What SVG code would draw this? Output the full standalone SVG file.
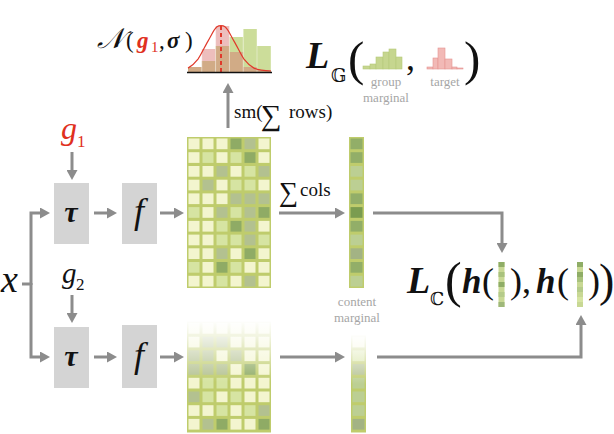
<svg xmlns="http://www.w3.org/2000/svg" width="614" height="434" viewBox="0 0 614 434">
<style>
.L{fill:#f3f5cf}.G{fill:#d6e4a2}.M{fill:#b3c190}.D{fill:#8fab65}
.V1{fill:#92ae68}.V2{fill:#bccf93}.V3{fill:#7a9c50}.V4{fill:#a3b384}
.c{width:11px;height:10.7px}
.v{width:12px;height:10.7px}
.grid{fill:#bfcc6c}
.box{fill:#d4d4d4}
.conn{fill:none;stroke:#8c8c8c;stroke-width:3}
.serif{font-family:"Liberation Serif","Times New Roman","DejaVu Serif",serif;fill:#111}
.ann{font-family:"Liberation Serif","DejaVu Serif",serif;fill:#a6a6a6;font-size:13px;text-anchor:middle}
.bb{fill:#c6d68f}
</style>
<defs>
<marker id="ah" markerUnits="userSpaceOnUse" markerWidth="10" markerHeight="11" viewBox="0 0 10 11" refX="4" refY="5.5" orient="auto">
<path d="M0,0 L10,5.5 L0,11 z" fill="#8c8c8c"/>
</marker>
<linearGradient id="fade" x1="0" y1="0" x2="0" y2="1">
<stop offset="0" stop-color="#fff" stop-opacity="1"/>
<stop offset="0.25" stop-color="#fff" stop-opacity="0.8"/>
<stop offset="1" stop-color="#fff" stop-opacity="0"/>
</linearGradient>
</defs>

<!-- histogram with gaussian -->
<g id="node-hist">
<g fill="#cadc95" opacity="0.95">
<rect x="188" y="67" width="13.8" height="5"/>
<rect x="201.8" y="61" width="13.8" height="11"/>
<rect x="215.6" y="46" width="13.8" height="26"/>
<rect x="229.4" y="37" width="13.8" height="35"/>
<rect x="243.2" y="29" width="13.8" height="43"/>
<rect x="257" y="46" width="13.8" height="26"/>
</g>
<g fill="#d9706e" opacity="0.45">
<rect x="188" y="67" width="13.8" height="5"/>
<rect x="201.8" y="49" width="13.8" height="23"/>
<rect x="215.6" y="26" width="13.8" height="46"/>
<rect x="229.4" y="52" width="13.8" height="20"/>
<rect x="243.2" y="67" width="13.8" height="5"/>
<rect x="257" y="70" width="13.8" height="2"/>
</g>
<g fill="none" stroke="#ffffff" stroke-opacity="0.5" stroke-width="0.8">
<line x1="201.8" y1="49" x2="201.8" y2="72"/><line x1="215.6" y1="26" x2="215.6" y2="72"/><line x1="229.4" y1="26" x2="229.4" y2="72"/><line x1="243.2" y1="29" x2="243.2" y2="72"/><line x1="257" y1="29" x2="257" y2="72"/>
</g>
<path d="M188,68.1 C191,66.5 195,63 198,59.1 C201,55 205,46 208,41.1 C211,36 214,29 217,26.8 C219,25.2 223,25.2 225,26.8 C228,29 231,36 234,41.1 C237,46 241,55 244,59.1 C247,63 251,66.5 254,68.1 C258,69.8 264,70.8 271,71" fill="none" stroke="#e0392b" stroke-width="1.2"/>
<line x1="221" y1="26" x2="221" y2="72" stroke="#e0392b" stroke-width="2" stroke-dasharray="4 3"/>
<line x1="187" y1="72.5" x2="272" y2="72.5" stroke="#111" stroke-width="1.6"/>
<text class="serif" x="97" y="48" font-size="23"><tspan font-style="italic" font-size="28">𝒩</tspan><tspan x="126">(</tspan><tspan x="137" fill="#e0301e" font-style="italic" font-weight="bold">g</tspan><tspan x="151" dy="4" font-size="15" fill="#e0301e">1</tspan><tspan x="159" dy="-4">,</tspan><tspan x="167" font-style="italic" font-weight="bold">σ</tspan><tspan x="185">)</tspan></text>
</g>

<!-- L_G -->
<g id="node-LG">
<text class="serif" x="306" y="68" font-size="38" font-style="italic" font-weight="bold">L</text>
<text class="serif" x="331" y="82" font-size="18" style="font-family:'DejaVu Serif','DejaVu Sans',serif">𝔾</text>
<text class="serif" x="348" y="75" font-size="49">(</text>
<g class="bb" stroke="#b5c97a" stroke-width="0.6">
<rect x="363" y="66" width="7" height="3"/>
<rect x="370" y="64" width="6" height="5"/>
<rect x="376" y="57" width="7" height="12"/>
<rect x="383" y="52" width="6" height="17"/>
<rect x="389" y="49" width="7" height="20"/>
<rect x="396" y="57" width="6" height="12"/>
</g>
<text class="serif" x="406" y="70" font-size="36">,</text>
<g fill="#f2b9b6" stroke="#e59391" stroke-width="0.6">
<rect x="427" y="67" width="6" height="2"/>
<rect x="433" y="58" width="5" height="11"/>
<rect x="438" y="48" width="7" height="21"/>
<rect x="445" y="59" width="7" height="10"/>
<rect x="452" y="67" width="5" height="2"/>
<rect x="457" y="68" width="6" height="1"/>
</g>
<text class="serif" x="464" y="75" font-size="49">)</text>
<text class="ann" x="386" y="86">group</text>
<text class="ann" x="386" y="102">marginal</text>
<text class="ann" x="445" y="86">target</text>
</g>

<!-- inputs -->
<g id="node-g1"><text class="serif" x="61" y="139" font-size="32" font-style="italic" style="fill:#e0301e">g</text><text class="serif" x="77" y="147" font-size="17" style="fill:#e0301e">1</text></g>
<g id="node-g2"><text class="serif" x="62" y="283" font-size="29" font-style="italic">g</text><text class="serif" x="76" y="290" font-size="17">2</text></g>
<g id="node-x"><text class="serif" x="1" y="292" font-size="38" font-style="italic">x</text></g>

<g id="node-tau1"><rect class="box" x="54" y="183" width="35" height="61"/><text class="serif" x="71" y="222" font-size="30" font-style="italic" font-weight="bold" text-anchor="middle">τ</text></g>
<g id="node-f1"><rect class="box" x="122" y="183" width="35" height="61"/><text class="serif" x="139" y="223" font-size="36" font-style="italic" text-anchor="middle">f</text></g>
<g id="node-tau2"><rect class="box" x="54" y="327" width="35" height="61"/><text class="serif" x="71" y="366" font-size="30" font-style="italic" font-weight="bold" text-anchor="middle">τ</text></g>
<g id="node-f2"><rect class="box" x="122" y="325" width="35" height="63"/><text class="serif" x="139" y="367" font-size="36" font-style="italic" text-anchor="middle">f</text></g>

<!-- top matrix -->
<g id="node-matrix1">
<rect class="grid" x="187" y="137" width="84" height="151"/>
<rect class="c L" x="188.5" y="138.5"/><rect class="c L" x="202.5" y="138.5"/><rect class="c L" x="216.5" y="138.5"/><rect class="c D" x="230.5" y="138.5"/><rect class="c M" x="244.5" y="138.5"/><rect class="c L" x="258.5" y="138.5"/>
<rect class="c L" x="188.5" y="152.2"/><rect class="c G" x="202.5" y="152.2"/><rect class="c L" x="216.5" y="152.2"/><rect class="c G" x="230.5" y="152.2"/><rect class="c D" x="244.5" y="152.2"/><rect class="c L" x="258.5" y="152.2"/>
<rect class="c L" x="188.5" y="166"/><rect class="c L" x="202.5" y="166"/><rect class="c M" x="216.5" y="166"/><rect class="c L" x="230.5" y="166"/><rect class="c G" x="244.5" y="166"/><rect class="c M" x="258.5" y="166"/>
<rect class="c L" x="188.5" y="179.7"/><rect class="c M" x="202.5" y="179.7"/><rect class="c L" x="216.5" y="179.7"/><rect class="c G" x="230.5" y="179.7"/><rect class="c G" x="244.5" y="179.7"/><rect class="c L" x="258.5" y="179.7"/>
<rect class="c L" x="188.5" y="193.4"/><rect class="c L" x="202.5" y="193.4"/><rect class="c L" x="216.5" y="193.4"/><rect class="c M" x="230.5" y="193.4"/><rect class="c M" x="244.5" y="193.4"/><rect class="c M" x="258.5" y="193.4"/>
<rect class="c G" x="188.5" y="207.1"/><rect class="c L" x="202.5" y="207.1"/><rect class="c M" x="216.5" y="207.1"/><rect class="c G" x="230.5" y="207.1"/><rect class="c M" x="244.5" y="207.1"/><rect class="c D" x="258.5" y="207.1"/>
<rect class="c L" x="188.5" y="220.9"/><rect class="c L" x="202.5" y="220.9"/><rect class="c G" x="216.5" y="220.9"/><rect class="c D" x="230.5" y="220.9"/><rect class="c M" x="244.5" y="220.9"/><rect class="c L" x="258.5" y="220.9"/>
<rect class="c L" x="188.5" y="234.6"/><rect class="c L" x="202.5" y="234.6"/><rect class="c G" x="216.5" y="234.6"/><rect class="c G" x="230.5" y="234.6"/><rect class="c M" x="244.5" y="234.6"/><rect class="c G" x="258.5" y="234.6"/>
<rect class="c L" x="188.5" y="248.3"/><rect class="c L" x="202.5" y="248.3"/><rect class="c M" x="216.5" y="248.3"/><rect class="c L" x="230.5" y="248.3"/><rect class="c D" x="244.5" y="248.3"/><rect class="c L" x="258.5" y="248.3"/>
<rect class="c G" x="188.5" y="262"/><rect class="c L" x="202.5" y="262"/><rect class="c D" x="216.5" y="262"/><rect class="c G" x="230.5" y="262"/><rect class="c L" x="244.5" y="262"/><rect class="c L" x="258.5" y="262"/>
<rect class="c L" x="188.5" y="275.8"/><rect class="c L" x="202.5" y="275.8"/><rect class="c G" x="216.5" y="275.8"/><rect class="c L" x="230.5" y="275.8"/><rect class="c M" x="244.5" y="275.8"/><rect class="c L" x="258.5" y="275.8"/>
</g>

<!-- top vector -->
<g id="node-vector1">
<rect class="grid" x="349" y="137" width="15" height="151"/>
<rect class="v V1" x="350.5" y="138.5"/><rect class="v V1" x="350.5" y="152.2"/><rect class="v V2" x="350.5" y="166"/><rect class="v V2" x="350.5" y="179.7"/><rect class="v V1" x="350.5" y="193.4"/><rect class="v V3" x="350.5" y="207.1"/><rect class="v V1" x="350.5" y="220.9"/><rect class="v V2" x="350.5" y="234.6"/><rect class="v V4" x="350.5" y="248.3"/><rect class="v V1" x="350.5" y="262"/><rect class="v V2" x="350.5" y="275.8"/>
</g>

<!-- bottom matrix -->
<g id="node-matrix2">
<rect class="grid" x="187" y="321.5" width="84" height="111"/>
<rect class="c L" x="188.5" y="323"/><rect class="c L" x="202.5" y="323"/><rect class="c L" x="216.5" y="323"/><rect class="c L" x="230.5" y="323"/><rect class="c L" x="244.5" y="323"/><rect class="c L" x="258.5" y="323"/>
<rect class="c L" x="188.5" y="336.7"/><rect class="c M" x="202.5" y="336.7"/><rect class="c M" x="216.5" y="336.7"/><rect class="c L" x="230.5" y="336.7"/><rect class="c L" x="244.5" y="336.7"/><rect class="c L" x="258.5" y="336.7"/>
<rect class="c M" x="188.5" y="350.4"/><rect class="c M" x="202.5" y="350.4"/><rect class="c L" x="216.5" y="350.4"/><rect class="c M" x="230.5" y="350.4"/><rect class="c L" x="244.5" y="350.4"/><rect class="c L" x="258.5" y="350.4"/>
<rect class="c M" x="188.5" y="364.1"/><rect class="c M" x="202.5" y="364.1"/><rect class="c M" x="216.5" y="364.1"/><rect class="c L" x="230.5" y="364.1"/><rect class="c D" x="244.5" y="364.1"/><rect class="c L" x="258.5" y="364.1"/>
<rect class="c L" x="188.5" y="377.8"/><rect class="c G" x="202.5" y="377.8"/><rect class="c G" x="216.5" y="377.8"/><rect class="c L" x="230.5" y="377.8"/><rect class="c L" x="244.5" y="377.8"/><rect class="c L" x="258.5" y="377.8"/>
<rect class="c M" x="188.5" y="391.5"/><rect class="c G" x="202.5" y="391.5"/><rect class="c L" x="216.5" y="391.5"/><rect class="c G" x="230.5" y="391.5"/><rect class="c L" x="244.5" y="391.5"/><rect class="c L" x="258.5" y="391.5"/>
<rect class="c L" x="188.5" y="405.2"/><rect class="c L" x="202.5" y="405.2"/><rect class="c G" x="216.5" y="405.2"/><rect class="c L" x="230.5" y="405.2"/><rect class="c G" x="244.5" y="405.2"/><rect class="c M" x="258.5" y="405.2"/>
<rect class="c L" x="188.5" y="418.9"/><rect class="c M" x="202.5" y="418.9"/><rect class="c D" x="216.5" y="418.9"/><rect class="c L" x="230.5" y="418.9"/><rect class="c L" x="244.5" y="418.9"/><rect class="c D" x="258.5" y="418.9"/>
<rect x="186" y="320" width="86" height="62" fill="url(#fade)"/>
</g>

<!-- bottom vector -->
<g id="node-vector2">
<rect class="grid" x="351" y="335.2" width="15" height="97.3"/>
<rect class="v L" x="352.5" y="336.7"/><rect class="v G" x="352.5" y="350.4"/><rect class="v M" x="352.5" y="364.1"/><rect class="v V2" x="352.5" y="377.8"/><rect class="v V2" x="352.5" y="391.5"/><rect class="v V2" x="352.5" y="405.2"/><rect class="v V4" x="352.5" y="418.9"/>
<rect x="350" y="334" width="17" height="50" fill="url(#fade)"/>
</g>

<!-- L_C -->
<g id="node-LC">
<text class="serif" x="407" y="293" font-size="38" font-style="italic" font-weight="bold">L</text>
<text class="serif" x="430" y="305" font-size="18" style="font-family:'DejaVu Serif','DejaVu Sans',serif">ℂ</text>
<text class="serif" x="445" y="297" font-size="50">(</text>
<text class="serif" x="462" y="293" font-size="35" font-style="italic" font-weight="bold">h</text>
<text class="serif" x="482" y="293" font-size="36">(</text>
<g>
<rect x="498.5" y="262" width="6" height="45" fill="#c8d894"/>
<rect x="498.5" y="262" width="6" height="5" fill="#8fad66"/><rect x="498.5" y="272" width="6" height="5" fill="#a9c27d"/><rect x="498.5" y="282" width="6" height="5" fill="#8fad66"/><rect x="498.5" y="292" width="6" height="5" fill="#b5cb8a"/><rect x="498.5" y="302" width="6" height="5" fill="#9fb87a"/>
</g>
<text class="serif" x="510" y="293" font-size="36">),</text>
<text class="serif" x="536" y="293" font-size="35" font-style="italic" font-weight="bold">h</text>
<text class="serif" x="557" y="293" font-size="36">(</text>
<g>
<rect x="577" y="262" width="6" height="45" fill="#c8d894"/>
<rect x="577" y="262" width="6" height="5" fill="#8fad66"/><rect x="577" y="272" width="6" height="5" fill="#8fad66"/><rect x="577" y="277" width="6" height="5" fill="#a9c27d"/><rect x="577" y="287" width="6" height="5" fill="#b5cb8a"/><rect x="577" y="297" width="6" height="5" fill="#d6e4a2"/>
</g>
<text class="serif" x="588" y="293" font-size="36">)</text>
<text class="serif" x="599" y="296" font-size="46">)</text>
</g>

<!-- labels -->
<g id="labels">
<text class="serif" x="234" y="118" font-size="19">sm(</text>
<text class="serif" x="261" y="125" font-size="29">∑</text>
<text class="serif" x="289" y="118" font-size="19">rows)</text>
<text class="serif" x="279" y="201" font-size="27">∑</text>
<text class="serif" x="300" y="196" font-size="19">cols</text>
<text class="ann" x="357" y="306">content</text>
<text class="ann" x="357" y="322">marginal</text>
</g>

<!-- connectors -->
<g id="connectors" class="conn">
<path d="M72 152 V174" marker-end="url(#ah)"/>
<path d="M94 213 H111" marker-end="url(#ah)"/>
<path d="M160 213 H178" marker-end="url(#ah)"/>
<path d="M22 284 H31"/>
<path d="M31 285 V213 H44" marker-end="url(#ah)"/>
<path d="M31 283 V357 H44" marker-end="url(#ah)"/>
<path d="M72 295 V317" marker-end="url(#ah)"/>
<path d="M94 357 H111" marker-end="url(#ah)"/>
<path d="M160 357 H178" marker-end="url(#ah)"/>
<path d="M228 128 V89" marker-end="url(#ah)"/>
<path d="M279 213 H339" marker-end="url(#ah)"/>
<path d="M280 357 H339" marker-end="url(#ah)"/>
<path d="M373 213 H502 V247" marker-end="url(#ah)"/>
<path d="M377 357 H581 V321" marker-end="url(#ah)"/>
</g>
</svg>
